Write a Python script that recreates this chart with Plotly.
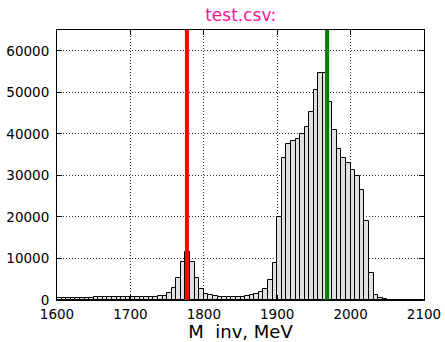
import plotly.graph_objects as go

# Histogram data: bins of 6.25 MeV from 1600 to 2100
bin_start = 1600.0
bin_width = 6.25
counts = [
    400, 500, 550, 550, 600, 600, 600, 600, 620, 620,
    650, 650, 650, 650, 680, 680, 700, 700, 700, 720,
    720, 750, 850, 1050, 1600, 2800, 5300, 9250, 11500, 9100,
    5200, 2750, 1500, 1100, 870, 750, 720, 720, 720, 740,
    800, 920, 1150, 1500, 1950, 2700, 4750, 8900, 19900, 34300,
    37650, 38200, 38850, 39970, 41580, 45190, 50550, 54560, 54700, 47740,
    40860, 36300, 34100, 32900, 31250, 29800, 26440, 19060, 6490, 1270,
    390, 200, 120, 80, 60, 50, 40, 30, 20, 15,
]
centers = [bin_start + bin_width * (i + 0.5) for i in range(len(counts))]

red_line_x = 1777
green_line_x = 1968

x_ticks = [1600, 1700, 1800, 1900, 2000, 2100]
x_tick_labels = ["1600", "1700", "1800", "1900", "2000", "2100"]
y_ticks = [0, 10000, 20000, 30000, 40000, 50000, 60000]
y_tick_labels = ["0", "10000", "20000", "30000", "40000", "50000", "60000"]

title_text = "test.csv:"
x_label = "M  inv, MeV"

fig = go.Figure()
fig.add_trace(go.Bar(
    x=centers, y=counts, width=bin_width,
    marker=dict(color="#e0e0e0", line=dict(color="black", width=1)),
    showlegend=False,
))

fig.add_shape(type="line", xref="x", yref="paper", x0=red_line_x, x1=red_line_x,
              y0=0, y1=1, line=dict(color="#ff0000", width=4), layer="above")
fig.add_shape(type="line", xref="x", yref="paper", x0=green_line_x, x1=green_line_x,
              y0=0, y1=1, line=dict(color="#008000", width=4), layer="above")

axis_common = dict(
    showline=True, linecolor="black", linewidth=1, mirror="ticks",
    ticks="inside", ticklen=5, tickcolor="black",
    showgrid=True, gridcolor="#333333", gridwidth=1, griddash="1px,2px",
    zeroline=False, automargin=False,
    tickfont=dict(family="DejaVu Sans", size=13.5, color="black"),
)

fig.update_layout(
    width=445, height=342,
    margin=dict(l=57, r=21, t=30, b=42),
    paper_bgcolor="white", plot_bgcolor="white",
    bargap=0,
    title=dict(text=title_text, x=0.541, xanchor="center", y=0.955, yanchor="middle",
               font=dict(family="DejaVu Sans", size=17, color="#ff1493")),
    xaxis=dict(range=[1600, 2100], tickvals=x_ticks, ticktext=x_tick_labels,
               ticklabelstandoff=2,
               title=dict(text=x_label, font=dict(family="DejaVu Sans", size=18, color="black"),
                          standoff=2),
               **axis_common),
    yaxis=dict(range=[0, 65000], tickvals=y_ticks, ticktext=y_tick_labels,
               ticklabelstandoff=4, **axis_common),
)

fig.write_html("out.html", config={"displayModeBar": False},
               post_script="document.body.style.margin='0';document.body.style.padding='0';")
